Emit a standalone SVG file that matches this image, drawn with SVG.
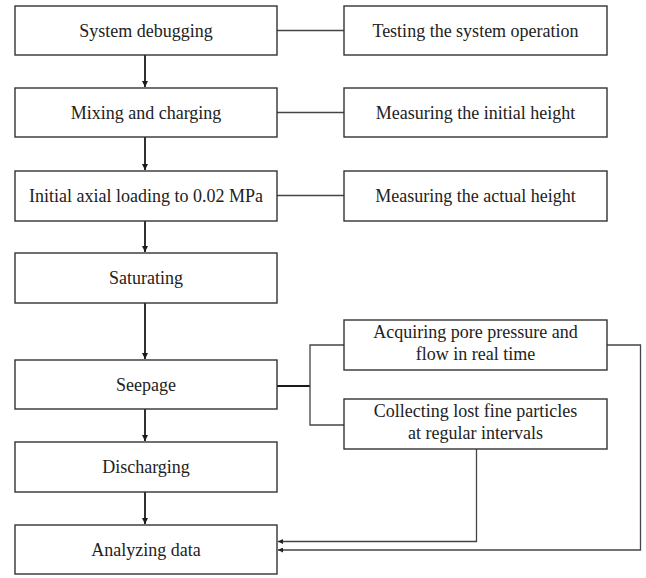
<svg xmlns="http://www.w3.org/2000/svg" width="646" height="578" viewBox="0 0 646 578">
<style>
.box{fill:#fff;stroke:#333;stroke-width:1.4}
.t{font-family:"Liberation Serif","Times New Roman",serif;font-size:18px;fill:#222;text-anchor:middle}
.ln{fill:none;stroke:#444;stroke-width:1.3}
.ar{fill:none;stroke:#1a1a1a;stroke-width:1.8}
</style>
<defs>
<marker id="ah" viewBox="0 0 10 10" refX="10" refY="5" markerWidth="6" markerHeight="9" orient="auto" markerUnits="userSpaceOnUse">
<path d="M0,0 L10,5 L0,10 z" fill="#1a1a1a"/>
</marker>
<marker id="ah2" viewBox="0 0 10 10" refX="10" refY="5" markerWidth="9" markerHeight="5" orient="auto" markerUnits="userSpaceOnUse">
<path d="M0,0 L10,5 L0,10 z" fill="#222"/>
</marker>
</defs>
<g id="connectors">
<line class="ar" x1="145" y1="55" x2="145" y2="87" marker-end="url(#ah)"/>
<line class="ar" x1="145" y1="137" x2="145" y2="170" marker-end="url(#ah)"/>
<line class="ar" x1="145" y1="221" x2="145" y2="252" marker-end="url(#ah)"/>
<line class="ar" x1="145" y1="303" x2="145" y2="359" marker-end="url(#ah)"/>
<line class="ar" x1="145" y1="409" x2="145" y2="441" marker-end="url(#ah)"/>
<line class="ar" x1="145" y1="492" x2="145" y2="524" marker-end="url(#ah)"/>
<line class="ln" x1="277" y1="30.5" x2="344" y2="30.5"/>
<line class="ln" x1="277" y1="112.5" x2="344" y2="112.5"/>
<line class="ln" x1="277" y1="195.5" x2="344" y2="195.5"/>
<line class="ar" x1="277" y1="386" x2="310" y2="386"/>
<polyline class="ln" points="344,345 310,345 310,425 344,425"/>
<polyline class="ln" points="607,345 640.5,345 640.5,550 278,550" marker-end="url(#ah2)"/>
<polyline class="ln" points="476.5,449 476.5,541.5 278,541.5" marker-end="url(#ah2)"/>
</g>
<g id="n1"><rect class="box" x="15" y="6" width="262" height="49"/><text class="t" x="146" y="36.5">System debugging</text></g>
<g id="n2"><rect class="box" x="15" y="88" width="262" height="49"/><text class="t" x="146" y="118.5">Mixing and charging</text></g>
<g id="n3"><rect class="box" x="15" y="171" width="262" height="50"/><text class="t" x="146" y="202">Initial axial loading to 0.02 MPa</text></g>
<g id="n4"><rect class="box" x="15" y="253" width="262" height="50"/><text class="t" x="146" y="284">Saturating</text></g>
<g id="n5"><rect class="box" x="15" y="360" width="262" height="49"/><text class="t" x="146" y="390.5">Seepage</text></g>
<g id="n6"><rect class="box" x="15" y="442" width="262" height="50"/><text class="t" x="146" y="473">Discharging</text></g>
<g id="n7"><rect class="box" x="15" y="525" width="262" height="49"/><text class="t" x="146" y="555.5">Analyzing data</text></g>
<g id="r1"><rect class="box" x="344" y="6" width="263" height="49"/><text class="t" x="475.5" y="36.5">Testing the system operation</text></g>
<g id="r2"><rect class="box" x="344" y="88" width="263" height="49"/><text class="t" x="475.5" y="118.5">Measuring the initial height</text></g>
<g id="r3"><rect class="box" x="344" y="171" width="263" height="50"/><text class="t" x="475.5" y="202">Measuring the actual height</text></g>
<g id="r4"><rect class="box" x="344" y="320" width="263" height="50"/><text class="t" x="475.5" y="338">Acquiring pore pressure and</text><text class="t" x="475.5" y="360">flow in real time</text></g>
<g id="r5"><rect class="box" x="344" y="399" width="263" height="50"/><text class="t" x="475.5" y="417">Collecting lost fine particles</text><text class="t" x="475.5" y="439">at regular intervals</text></g>
</svg>
